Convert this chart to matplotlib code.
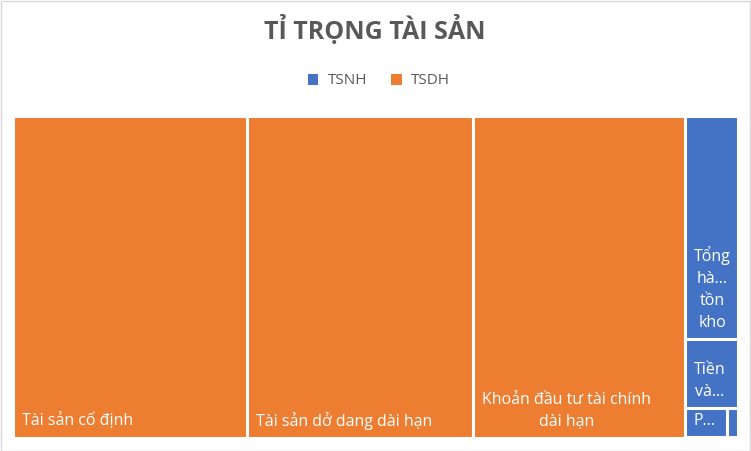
import matplotlib.pyplot as plt
from matplotlib.patches import Rectangle, Patch

plt.rcParams['font.family'] = ['Open Sans', 'DejaVu Sans']

# data (percent of total assets)
groups = ['TSDH', 'TSNH']
group_colors = {'TSNH': '#4472C4', 'TSDH': '#ED7D31'}

tsdh_names = ['Tài sản cố định', 'Tài sản dở dang dài hạn', 'Khoản đầu tư tài chính dài hạn']
tsdh_values = [32.3, 31.2, 29.2]
tsdh_labels = ['Tài sản cố định', 'Tài sản dở dang dài hạn', 'Khoản đầu tư tài chính\ndài hạn']

tsnh_names = ['Tổng hàng tồn kho', 'Tiền và các khoản tương đương tiền', 'Phải thu ngắn hạn', 'Tài sản ngắn hạn khác']
tsnh_values = [5.04, 1.54, 0.54, 0.13]
tsnh_labels = ['Tổng\nhà...\ntồn\nkho', 'Tiền\nvà...', 'P...', '']


def worst(row, side):
    s = sum(row)
    return max(max(side * side * r / (s * s), s * s / (side * side * r)) for r in row)


def squarify(values, x, y, w, h):
    # squarified treemap, y grows downwards
    total = sum(values)
    areas = [v * w * h / total for v in values]
    rects = []
    while areas:
        short = min(w, h)
        row = [areas[0]]
        i = 1
        while i < len(areas) and worst(row + [areas[i]], short) <= worst(row, short):
            row.append(areas[i])
            i += 1
        s = sum(row)
        if w >= h:
            sw = s / h
            yy = y
            for a in row:
                rects.append((x, yy, sw, a / sw))
                yy += a / sw
            x += sw
            w -= sw
        else:
            sh = s / w
            xx = x
            for a in row:
                rects.append((xx, y, a / sh, sh))
                xx += a / sh
            y += sh
            h -= sh
        areas = areas[i:]
    return rects


W, H = 725, 322

fig = plt.figure(figsize=(7.51, 4.51), dpi=100)
ax = fig.add_axes([12.5 / 751, 13.5 / 451, W / 751, H / 451])
ax.set_xlim(0, W)
ax.set_ylim(H, 0)
ax.axis('off')

group_data = {
    'TSDH': (tsdh_values, tsdh_labels),
    'TSNH': (tsnh_values, tsnh_labels),
}
group_rects = squarify([sum(group_data[g][0]) for g in groups], 0, 0, W, H)

for g, (gx, gy, gw, gh) in zip(groups, group_rects):
    vals, labels = group_data[g]
    for (x, y, w, h), lab in zip(squarify(vals, gx, gy, gw, gh), labels):
        ax.add_patch(Rectangle((x, y), w, h, facecolor=group_colors[g],
                               edgecolor='white', lw=2.2, clip_on=False))
        if lab:
            ax.text(x + 9, y + h - 8, lab, color='white', fontsize=11.5,
                    ha='left', va='bottom', multialignment='center', linespacing=1.5)

fig.text(375 / 751, 1 - 30 / 451, 'TỈ TRỌNG TÀI SẢN', ha='center', va='center',
         fontsize=18, fontweight='bold', color='#595959')

handles = [Patch(facecolor=group_colors[g]) for g in ['TSNH', 'TSDH']]
fig.legend(handles, ['TSNH', 'TSDH'], loc='center', bbox_to_anchor=(379 / 751, 1 - 81 / 451),
           ncol=2, frameon=False, fontsize=11, labelcolor='#595959',
           handlelength=0.7, handleheight=0.7, handletextpad=0.6, columnspacing=1.6)

fig.add_artist(Rectangle((0.5 / 751, 0.5 / 451), 749.5 / 751, 449.5 / 451, transform=fig.transFigure,
                         fill=False, edgecolor='#D9D9D9', lw=1))

fig.savefig('out.png', dpi=100)
